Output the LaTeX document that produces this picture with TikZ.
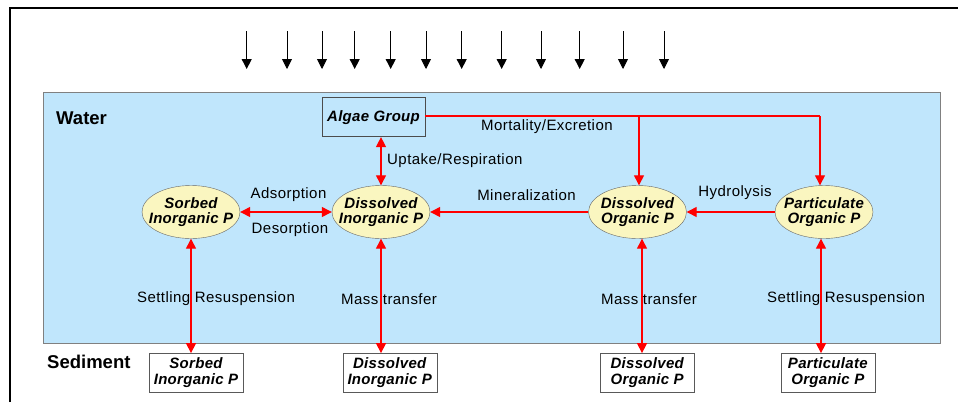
\documentclass[tikz,border=0pt]{standalone}
\usepackage{fontspec}
\setmainfont{Liberation Sans}
\usetikzlibrary{arrows.meta,shapes.geometric}
\definecolor{waterblue}{RGB}{192,230,252}
\definecolor{ellfill}{RGB}{250,246,192}
\definecolor{flowred}{RGB}{255,0,0}
\newfontfamily\labfont[LetterSpace=3]{Liberation Sans}
\newfontfamily\poolfont[LetterSpace=2]{Liberation Sans}
\tikzset{
  pool/.style={ellipse,draw=gray!80!black,fill=ellfill,minimum width=98pt,minimum height=53pt,inner xsep=-10pt,inner ysep=0pt,
    align=center,font=\poolfont\fontsize{15}{15.5}\selectfont\bfseries\itshape},
  sedbox/.style={draw=gray!70!black,fill=white,minimum width=94pt,minimum height=39pt,inner sep=0pt,
    align=center,font=\poolfont\fontsize{15}{16}\selectfont\bfseries\itshape},
  flow/.style={draw=flowred,line width=1.3pt,-{Triangle[length=10pt,width=10pt]},fill=flowred},
  biflow/.style={draw=flowred,line width=1.3pt,{Triangle[length=10pt,width=10pt]}-{Triangle[length=10pt,width=10pt]},fill=flowred},
  redline/.style={draw=flowred,line width=1.3pt},
  lab/.style={font=\labfont\fontsize{15}{16}\selectfont,inner sep=0pt},
  zonelab/.style={font=\fontsize{18.5}{19}\selectfont\bfseries,inner sep=0pt},
  light/.style={line width=0.9pt,-{Triangle[length=10pt,width=10pt]}}
}
\begin{document}
\begin{tikzpicture}[x=1pt,y=-1pt]
\useasboundingbox (0,0) rectangle (958,402);
\fill[white] (0,0) rectangle (958,402);
% outer frame
\draw[line width=2pt] (10,402) -- (10,8) -- (958,8);
% water box
\node[draw=gray,fill=waterblue,line width=0.8pt,minimum width=897pt,minimum height=251pt,inner sep=0pt,anchor=north west] (water) at (43.3,91.7) {};
\node[zonelab,anchor=west] (wlab) at (56,118) {Water};
\node[zonelab,anchor=west] (slab) at (47,362) {Sediment};
% light arrows
\foreach \x [count=\i] in {246.7,287,322,354.7,390.7,426,461.7,501.7,541,579.7,623,664}{
  \coordinate (ls\i) at (\x,31);
  \coordinate (le\i) at (\x,69);
  \draw[light] (ls\i) -- (le\i);
}
% algae
\node[draw=gray!60!black,fill=waterblue,line width=0.8pt,minimum width=103pt,minimum height=39pt,inner sep=0pt,
  font=\poolfont\fontsize{15}{16}\selectfont\bfseries\itshape] (algae) at (373.5,117.2) {Algae Group};
% pools
\node[pool] (sip) at (191,212) {Sorbed\\Inorganic P};
\node[pool] (dip) at (381,212) {Dissolved\\Inorganic P};
\node[pool] (dop) at (637.5,212) {Dissolved\\Organic P};
\node[pool] (pop) at (824,212) {Particulate\\Organic P};
% sediment boxes
\node[sedbox] (ssip) at (196,372.8) {Sorbed\\Inorganic P};
\node[sedbox] (sdip) at (389.7,372.8) {Dissolved\\Inorganic P};
\node[sedbox] (sdop) at (647.2,372.8) {Dissolved\\Organic P};
\node[sedbox] (spop) at (827.8,372.8) {Particulate\\Organic P};
% algae flows
\draw[biflow] (algae.south -| dip.north) -- (dip.north);
\coordinate (corner) at (820,116);
\draw[redline] (algae.east |- corner) -- (corner);
\draw[flow] (639,116) -- (dop.north -| 639,0);
\draw[flow] (corner) -- (pop.north -| corner);
% horizontal flows
\draw[biflow] (sip.east) -- (dip.east -| dip.west);
\draw[flow] (dop.west) -- (dip.east);
\draw[flow] (pop.west) -- (dop.east);
% vertical exchanges
\draw[biflow] (sip.south) -- (ssip.north -| sip.south);
\draw[biflow] (dip.south) -- (sdip.north -| dip.south);
\draw[biflow] (dop.south -| 642,0) -- (sdop.north -| 642,0);
\draw[biflow] (pop.south -| 821,0) -- (spop.north -| 821,0);
% labels
\node[lab,anchor=west] (l1) at (387,161) {Uptake/Respiration};
\node[lab,anchor=west] (l2) at (481,127) {Mortality/Excretion};
\node[lab] (l3) at (288.5,195) {Adsorption};
\node[lab] (l4) at (290,230) {Desorption};
\node[lab] (l5) at (526.5,195) {Mineralization};
\node[lab] (l6) at (735,193) {Hydrolysis};
\node[lab] (l7) at (216,299) {Settling Resuspension};
\node[lab] (l8) at (389,299) {Mass transfer};
\node[lab] (l9) at (649,299) {Mass transfer};
\node[lab] (l10) at (846,299) {Settling Resuspension};
\end{tikzpicture}
\end{document}
